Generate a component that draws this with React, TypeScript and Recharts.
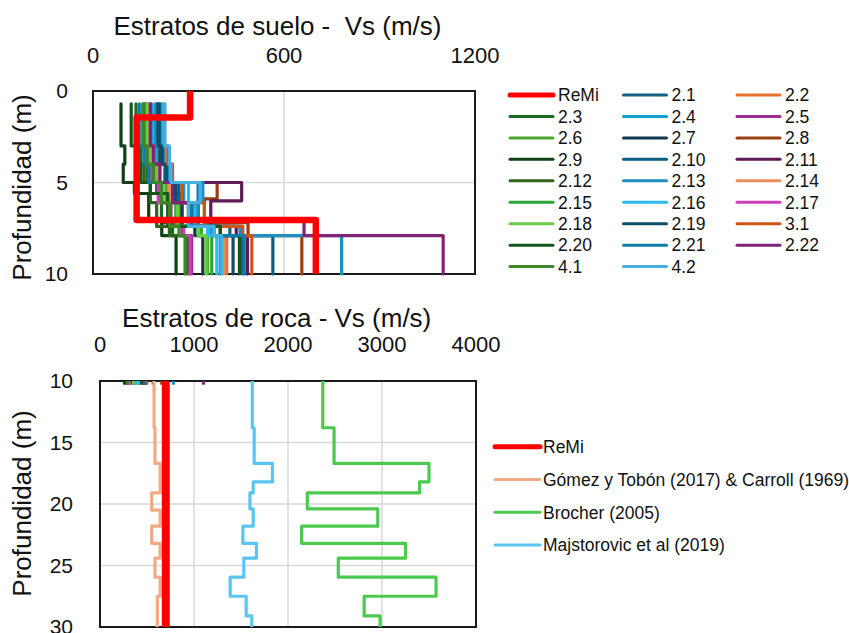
import React from 'react';
import { ScatterChart, Scatter, XAxis, YAxis, CartesianGrid, ReferenceArea } from 'recharts';

const FONT = '"Liberation Sans", Arial, sans-serif';
const TEXT = '#111';

// soil profiles: [top of layer (m), Vs (m/s)], the last layer runs to 10 m
const remiSoil = [[0, 305], [1.45, 137], [7.05, 700]];
const s2_1 = [[0.7, 205], [3.0, 215], [4.0, 235], [5.0, 260], [6.1, 300], [7.4, 430], [7.9, 470]];
const s2_2 = [[0.7, 180], [2.9, 190], [4.0, 210], [5.0, 245], [6.1, 320], [7.4, 400], [7.9, 420]];
const s2_3 = [[0.7, 160], [3.0, 150], [4.0, 170], [5.0, 200], [5.6, 215], [7.2, 250], [7.9, 290]];
const s2_4 = [[0.7, 185], [3.0, 200], [4.0, 225], [5.0, 285], [6.1, 330], [7.4, 370], [7.9, 400]];
const s2_5 = [[0.7, 165], [3.0, 175], [4.0, 190], [5.0, 215], [6.1, 245], [7.4, 280], [7.9, 310]];
const s2_6 = [[0.7, 170], [3.0, 185], [4.0, 200], [5.0, 230], [6.1, 275], [7.4, 330], [7.9, 360]];
const s2_7 = [[0.7, 200], [3.0, 210], [4.0, 230], [5.0, 255], [5.6, 280], [7.4, 320], [7.9, 345]];
const s2_8 = [[0.7, 215], [3.0, 225], [4.0, 245], [5.0, 390], [5.9, 350], [7.2, 487], [7.9, 656]];
const s2_9 = [[0.7, 88], [3.0, 100], [4.0, 95], [5.0, 130], [5.6, 175], [7.1, 216], [7.9, 261]];
const s2_10 = [[0.7, 210], [3.0, 220], [4.0, 240], [5.0, 270], [6.1, 330], [7.4, 470], [7.9, 565]];
const s2_11 = [[0.7, 175], [3.0, 185], [4.0, 205], [5.0, 467], [6.0, 370], [7.4, 450], [7.9, 485]];
const s2_12 = [[0.7, 135], [3.0, 140], [4.0, 160], [5.0, 180], [6.1, 200], [7.4, 240], [7.9, 300]];
const s2_13 = [[0.7, 195], [3.0, 215], [4.0, 240], [5.0, 345], [6.1, 330], [7.4, 462], [7.9, 781]];
const s2_14 = [[0.7, 175], [3.0, 190], [4.0, 205], [5.0, 240], [6.1, 300], [7.4, 380], [7.9, 410]];
const s2_15 = [[0.7, 155], [3.0, 165], [4.0, 180], [5.0, 210], [6.1, 260], [7.4, 340], [7.9, 373]];
const s2_16 = [[0.7, 220], [3.0, 230], [4.0, 245], [5.0, 300], [6.1, 320], [7.4, 360], [7.9, 389]];
const s2_17 = [[0.7, 165], [3.0, 170], [4.0, 185], [5.0, 205], [6.1, 235], [7.4, 285], [7.9, 305]];
const s2_18 = [[0.7, 170], [3.0, 180], [4.0, 195], [5.0, 220], [6.1, 265], [7.4, 330], [7.9, 355]];
const s2_19 = [[0.7, 205], [3.0, 215], [4.0, 230], [5.0, 260], [6.1, 310], [7.4, 400], [7.9, 440]];
const s3_1 = [[0.7, 225], [3.0, 235], [4.0, 250], [5.0, 280], [6.1, 350], [7.4, 470], [7.9, 499]];
const s2_20 = [[0.7, 120], [3.0, 135], [4.0, 150], [5.0, 180], [5.6, 235], [7.4, 400], [7.9, 460]];
const s2_21 = [[0.7, 145], [3.0, 160], [4.0, 175], [5.0, 330], [6.1, 310], [7.4, 380], [7.9, 475]];
const s2_22 = [[0.7, 180], [3.0, 190], [4.0, 210], [5.0, 250], [6.1, 300], [7.1, 663], [7.9, 1100]];
const s4_1 = [[0.7, 160], [3.0, 170], [4.0, 190], [5.0, 215], [6.1, 240], [7.4, 270], [7.9, 290]];
const s4_2 = [[0.7, 226], [3.0, 240], [4.0, 245], [5.0, 336], [6.1, 300], [7.4, 380], [7.9, 404]];

const soilNames = ['2.1', '2.2', '2.3', '2.4', '2.5', '2.6', '2.7', '2.8', '2.9', '2.10', '2.11', '2.12', '2.13',
  '2.14', '2.15', '2.16', '2.17', '2.18', '2.19', '3.1', '2.20', '2.21', '2.22', '4.1', '4.2'];
const soilLayers = [s2_1, s2_2, s2_3, s2_4, s2_5, s2_6, s2_7, s2_8, s2_9, s2_10, s2_11, s2_12, s2_13,
  s2_14, s2_15, s2_16, s2_17, s2_18, s2_19, s3_1, s2_20, s2_21, s2_22, s4_1, s4_2];

// rock profiles, depth 10 - 30 m
const remiRock = [[10, 700]];
const gomezRock = [[10, 575], [13.8, 585], [16.7, 640], [19.1, 550], [20.5, 640], [21.8, 550], [23.2, 640],
  [24.4, 585], [25.95, 640], [27.5, 610]];
const brocherRock = [[10, 2370], [13.8, 2490], [16.7, 3500], [18.2, 3400], [19.1, 2205], [20.4, 2955],
  [21.8, 2145], [23.2, 3250], [24.4, 2535], [25.95, 3575], [27.5, 2810], [29.1, 2980]];
const majsRock = [[10, 1620], [13.8, 1640], [16.7, 1835], [18.2, 1630], [19.1, 1595], [20.4, 1630],
  [21.8, 1520], [23.2, 1665], [24.4, 1530], [25.95, 1385], [27.5, 1555], [29.1, 1615]];
const rockNames = ['ReMi', 'Gómez y Tobón (2017) & Carroll (1969)', 'Brocher (2005)', 'Majstorovic et al (2019)'];

const soilTicks = [0, 600, 1200];
const soilDepthTicks = [0, 5, 10];
const rockTicks = [0, 1000, 2000, 3000, 4000];
const rockDepthTicks = [10, 15, 20, 25, 30];

const soilColors = ['#156082', '#E97132', '#196B24', '#0F9ED5', '#A02B93', '#4EA72E', '#0D3A4E', '#9A4010',
  '#0F4016', '#095F80', '#601A58', '#2F641C', '#1F8EC0', '#EE8E5B', '#27A839', '#2CBAF0', '#CB3DBB',
  '#69CC45', '#114D68', '#CD5516', '#14561D', '#0C7EAA', '#802276', '#3E8625', '#46B1E1'];
const rockColors = ['#FF0000', '#F2AA84', '#4CC94F', '#5BC5F2'];

// layers -> step polyline
const steps = (layers: number[][], bottom: number) => {
  const pts: { v: number; d: number }[] = [];
  layers.forEach(([d, v], i) => {
    const next = i < layers.length - 1 ? layers[i + 1][0] : bottom;
    pts.push({ v, d }, { v, d: next });
  });
  return pts;
};

const noDot = () => <g />;

const tickX = { fontSize: 22, fill: TEXT, fontFamily: FONT };
const tickY = { fontSize: 21, fill: TEXT, fontFamily: FONT };

const SoilChart = () => (
  <ScatterChart width={520} height={290} margin={{ top: 51, left: 53, right: 45, bottom: 16 }}>
    <CartesianGrid stroke="#d9d9d9" strokeWidth={1.5} />
    <XAxis type="number" dataKey="v" orientation="top" domain={[0, 1200]} ticks={soilTicks} height={40}
      tickLine={false} axisLine={false} tickMargin={22} tick={tickX} interval={0} />
    <YAxis type="number" dataKey="d" reversed domain={[0, 10]} ticks={soilDepthTicks} width={40}
      tickLine={false} axisLine={false} tickMargin={19} tick={tickY} interval={0} />
    {soilLayers.map((layers, i) => (
      <Scatter key={soilNames[i]} name={soilNames[i]} data={steps(layers, 10)} fill={soilColors[i]}
        line={{ stroke: soilColors[i], strokeWidth: 3.2, strokeLinejoin: 'round', strokeLinecap: 'round' }}
        shape={noDot} isAnimationActive={false} />
    ))}
    <Scatter name="ReMi" data={steps(remiSoil, 10)} fill="#FF0000"
      line={{ stroke: '#FF0000', strokeWidth: 6.5, strokeLinejoin: 'round' }} shape={noDot} isAnimationActive={false} />
    <ReferenceArea x1={0} x2={1200} y1={0} y2={10} fill="none" stroke="#1a1a1a" strokeWidth={2} ifOverflow="visible" />
  </ScatterChart>
);

const RockChart = () => (
  <ScatterChart width={530} height={343} margin={{ top: 51, left: 60, right: 54, bottom: 6 }}>
    <CartesianGrid stroke="#d9d9d9" strokeWidth={1.5} />
    <XAxis type="number" dataKey="v" orientation="top" domain={[0, 4000]} ticks={rockTicks} height={40}
      tickLine={false} axisLine={false} tickMargin={23} tick={tickX} interval={0} />
    <YAxis type="number" dataKey="d" reversed domain={[10, 30]} ticks={rockDepthTicks} width={40}
      tickLine={false} axisLine={false} tickMargin={21} tick={tickY} interval={0} />
    {soilLayers.map((layers, i) => (
      <Scatter key={soilNames[i]} data={steps([[10, layers[layers.length - 1][1]]], 10.3)} fill={soilColors[i]}
        line={{ stroke: soilColors[i], strokeWidth: 3 }} shape={noDot} isAnimationActive={false} />
    ))}
    {[gomezRock, brocherRock, majsRock].map((layers, i) => (
      <Scatter key={rockNames[i + 1]} name={rockNames[i + 1]} data={steps(layers, 30)} fill={rockColors[i + 1]}
        line={{ stroke: rockColors[i + 1], strokeWidth: 3.2, strokeLinejoin: 'round' }}
        shape={noDot} isAnimationActive={false} />
    ))}
    <Scatter name="ReMi" data={steps(remiRock, 30)} fill="#FF0000"
      line={{ stroke: '#FF0000', strokeWidth: 8 }} shape={noDot} isAnimationActive={false} />
    <ReferenceArea x1={0} x2={4000} y1={10} y2={30} fill="none" stroke="#1a1a1a" strokeWidth={2} ifOverflow="visible" />
  </ScatterChart>
);

const Overlay = () => {
  const topNames = ['ReMi', ...soilNames];
  const topColors = ['#FF0000', ...soilColors];
  return (
    <svg width={849} height={633} style={{ position: 'absolute', left: 0, top: 0, pointerEvents: 'none' }}
      fontFamily={FONT} fill={TEXT}>
      <text x={277.5} y={35} fontSize={26} textAnchor="middle" style={{ whiteSpace: 'pre' }}>Estratos de suelo -  Vs (m/s)</text>
      <text x={276.7} y={326.7} fontSize={26} textAnchor="middle">Estratos de roca - Vs (m/s)</text>
      <text x={31} y={187.5} fontSize={26} textAnchor="middle" transform="rotate(-90 31 187.5)">Profundidad (m)</text>
      <text x={31} y={503.5} fontSize={26} textAnchor="middle" transform="rotate(-90 31 503.5)">Profundidad (m)</text>
      {topNames.map((n, i) => {
        const x = 510 + (i % 3) * 113.5;
        const y = 95 + Math.floor(i / 3) * 21.45;
        return (
          <g key={n}>
            <line x1={x} x2={x + 43} y1={y} y2={y} stroke={topColors[i]} strokeWidth={i === 0 ? 5 : 3} strokeLinecap="round" />
            <text x={x + 48} y={y + 6.3} fontSize={17.5}>{n}</text>
          </g>
        );
      })}
      {rockNames.map((n, i) => {
        const y = 446.7 + i * 32.8;
        return (
          <g key={n}>
            <line x1={495} x2={540} y1={y} y2={y} stroke={rockColors[i]} strokeWidth={i === 0 ? 5 : 3} strokeLinecap="round" />
            <text x={543} y={y + 6.3} fontSize={17.5}>{n}</text>
          </g>
        );
      })}
    </svg>
  );
};

export default function App() {
  return (
    <div style={{ position: 'absolute', left: 0, top: 0, width: 849, height: 633, background: '#fff', overflow: 'hidden' }}>
      <div style={{ position: 'absolute', left: 0, top: 0 }}>
        <SoilChart />
      </div>
      <div style={{ position: 'absolute', left: 0, top: 290 }}>
        <RockChart />
      </div>
      <Overlay />
    </div>
  );
}
